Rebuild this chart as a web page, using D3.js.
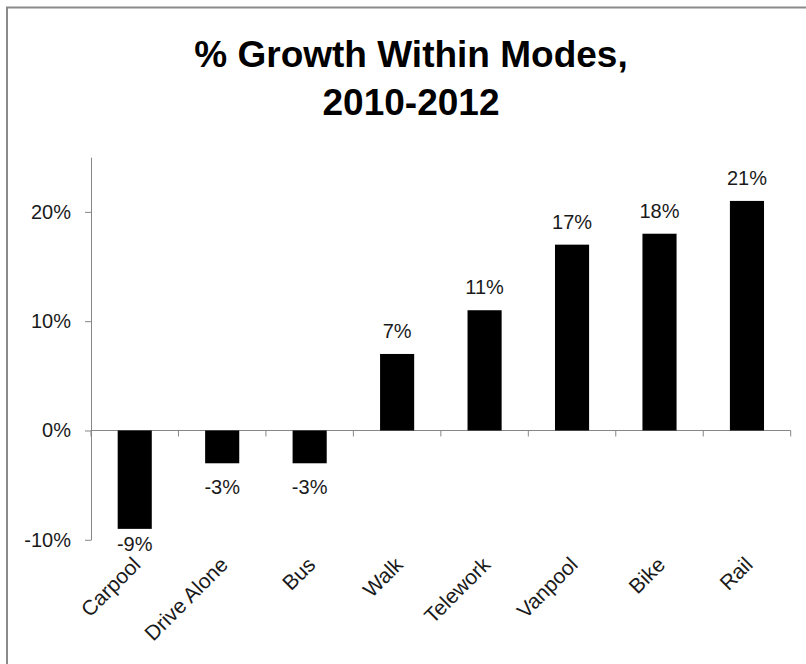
<!DOCTYPE html>
<html lang="en">
<head>
    <meta charset="UTF-8">
    <title>% Growth Within Modes, 2010-2012</title>
    <script src="https://d3js.org/d3.v7.min.js"></script>
    <style>
        body {
            margin: 0;
            padding: 0;
            background-color: #fff;
            font-family: "Liberation Sans", Arial, sans-serif;
        }
        svg {
            display: block;
        }
        .axis path,
        .axis line {
            stroke: #868686;
        }
        .axis text {
            font-family: "Liberation Sans", Arial, sans-serif;
            font-size: 20px;
            fill: #1a1a1a;
        }
        .value-label {
            font-size: 20px;
            fill: #1a1a1a;
        }
        .cat-label {
            font-size: 21px;
            fill: #1a1a1a;
        }
    </style>
</head>
<body>
    <div id="chart"></div>

    <script>
        const modes = ["Carpool", "Drive Alone", "Bus", "Walk", "Telework", "Vanpool", "Bike", "Rail"];
        const growth = [-9, -3, -3, 7, 11, 17, 18, 21];
        const yTicks = [-10, 0, 10, 20];
        const titleLines = ["% Growth Within Modes,", "2010-2012"];

        const width = 806, height = 664;
        const plot = {left: 91, right: 790.7, top: 157.2, bottom: 539.8};

        const svg = d3.select("#chart").append("svg")
            .attr("width", width)
            .attr("height", height);

        // chart frame (runs off the right and bottom edge like the original)
        svg.append("rect")
            .attr("x", 7)
            .attr("y", 7.5)
            .attr("width", 820)
            .attr("height", 680)
            .attr("fill", "none")
            .attr("stroke", "#8a8a8a")
            .attr("stroke-width", 2);

        svg.append("g")
            .selectAll("text")
            .data(titleLines)
            .join("text")
            .attr("x", 411)
            .attr("y", (d, i) => 67 + i * 48)
            .attr("text-anchor", "middle")
            .attr("font-size", 37)
            .attr("font-weight", "bold")
            .attr("fill", "#000")
            .text(d => d);

        const x = d3.scaleBand()
            .domain(modes)
            .range([plot.left, plot.right])
            .paddingInner(0.61)
            .paddingOuter(0.305);

        const y = d3.scaleLinear()
            .domain([-10, 25])
            .range([plot.bottom, plot.top]);

        // y axis
        svg.append("g")
            .attr("class", "axis axis--y")
            .attr("transform", `translate(${plot.left}, 0)`)
            .call(d3.axisLeft(y)
                .tickValues(yTicks)
                .tickSize(6)
                .tickSizeOuter(0)
                .tickPadding(14)
                .tickFormat(d => d + "%"));

        // x axis along zero, ticks between categories
        const xAxis = svg.append("g").attr("class", "axis axis--x");
        xAxis.append("line")
            .attr("x1", plot.left)
            .attr("x2", plot.right)
            .attr("y1", y(0))
            .attr("y2", y(0));
        xAxis.selectAll(".tick")
            .data(d3.range(modes.length + 1))
            .join("line")
            .attr("class", "tick")
            .attr("x1", i => plot.left + i * x.step())
            .attr("x2", i => plot.left + i * x.step())
            .attr("y1", y(0))
            .attr("y2", y(0) + 6);

        // bars
        svg.append("g")
            .selectAll("rect")
            .data(modes)
            .join("rect")
            .attr("x", d => x(d))
            .attr("width", x.bandwidth())
            .attr("y", (d, i) => y(Math.max(0, growth[i])))
            .attr("height", (d, i) => Math.abs(y(growth[i]) - y(0)))
            .attr("fill", "#000");

        // value labels
        svg.append("g")
            .selectAll("text")
            .data(modes)
            .join("text")
            .attr("class", "value-label")
            .attr("x", d => x(d) + x.bandwidth() / 2)
            .attr("y", (d, i) => growth[i] >= 0
                ? y(growth[i]) - 16
                : Math.min(y(growth[i]) + 31, plot.bottom + 11))
            .attr("text-anchor", "middle")
            .text((d, i) => growth[i] + "%");

        // category labels at the bottom of the plot, rotated
        svg.append("g")
            .selectAll("text")
            .data(modes)
            .join("text")
            .attr("class", "cat-label")
            .attr("text-anchor", "end")
            .attr("transform", d => `translate(${x(d) + x.bandwidth() / 2 + 7}, 566) rotate(-45)`)
            .text(d => d);
    </script>
</body>
</html>
